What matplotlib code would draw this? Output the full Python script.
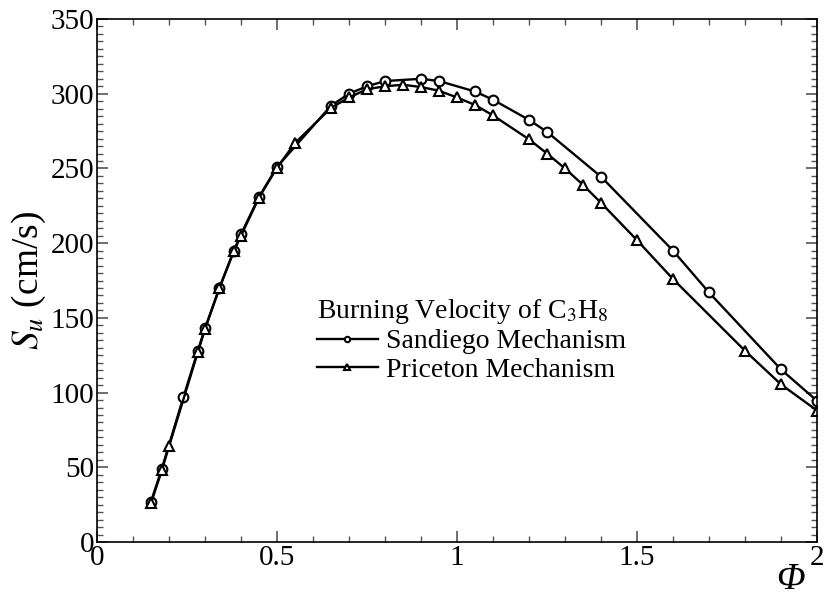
import matplotlib
matplotlib.use("Agg")
import matplotlib.pyplot as plt
from matplotlib.ticker import MultipleLocator

plt.rcParams['font.family'] = ['Liberation Serif', 'DejaVu Serif']
plt.rcParams['mathtext.fontset'] = 'stix'

# Sandiego mechanism (circles)
phi_sd = [0.15, 0.18, 0.24, 0.28, 0.30, 0.34, 0.38, 0.40, 0.45, 0.50, 0.65, 0.70,
          0.75, 0.80, 0.90, 0.95, 1.05, 1.10, 1.20, 1.25, 1.40, 1.60, 1.70, 1.90, 2.00]
su_sd = [27, 49, 97, 128, 143, 170, 195, 206, 231, 251, 292, 300,
         305, 308.5, 310, 308.5, 301.5, 296, 282.5, 274.5, 244.5, 195, 167, 115.5, 94.5]

# Priceton mechanism (triangles)
phi_pr = [0.15, 0.18, 0.20, 0.28, 0.30, 0.34, 0.38, 0.40, 0.45, 0.50, 0.55, 0.65,
          0.70, 0.75, 0.80, 0.85, 0.90, 0.95, 1.00, 1.05, 1.10, 1.20, 1.25, 1.30,
          1.35, 1.40, 1.50, 1.60, 1.80, 1.90, 2.00]
su_pr = [26, 48, 64, 127, 142.5, 170, 194.5, 205, 230.5, 250.5, 267, 290.5,
         297.5, 303, 305, 306, 304.5, 302, 297.5, 292.5, 285.5, 269.5, 260, 250,
         239, 227, 202, 176, 128, 105.5, 88]

fig = plt.figure(figsize=(8.27, 6.04), dpi=100)
ax = fig.add_axes([0.1173, 0.1026, 0.8706, 0.8659])

ax.plot(phi_sd, su_sd, color='black', lw=1.7, marker='o', ms=7, mfc='white',
        mec='black', mew=1.5, label='Sandiego Mechanism')
ax.plot(phi_pr, su_pr, color='black', lw=1.7, marker='^', ms=7.5, mfc='white',
        mec='black', mew=1.5, label='Priceton Mechanism')

ax.set_xlim(0, 2)
ax.set_ylim(0, 350)
ax.xaxis.set_major_locator(MultipleLocator(0.5))
ax.xaxis.set_minor_locator(MultipleLocator(0.1))
ax.yaxis.set_major_locator(MultipleLocator(50))
ax.yaxis.set_minor_locator(MultipleLocator(5))
ax.xaxis.set_major_formatter(plt.FuncFormatter(lambda v, p: '%g' % v))

ax.tick_params(which='both', direction='in', top=True, right=True, labelsize=21, pad=2)
ax.tick_params(which='major', length=8, width=1.2, color='#555555')
ax.tick_params(which='minor', length=4, width=1.0, color='#555555')
for s in ax.spines.values():
    s.set_linewidth(1.2)

ax.set_ylabel(r'$S_u$ (cm/s)', fontsize=27, labelpad=2)
ax.text(0.9625, -0.072, 'Φ', transform=ax.transAxes, fontsize=27,
        fontstyle='italic', ha='center', va='center')

leg = ax.legend(loc='upper left', bbox_to_anchor=(0.305, 0.468), frameon=False,
                fontsize=20, title=r'Burning Velocity of C$_3$H$_8$',
                title_fontsize=20, handlelength=2.2, handletextpad=0.3,
                labelspacing=0.1, borderpad=0, borderaxespad=0, markerscale=0.55)
leg._legend_box.align = 'left'

fig.savefig('out.png', dpi=100)
